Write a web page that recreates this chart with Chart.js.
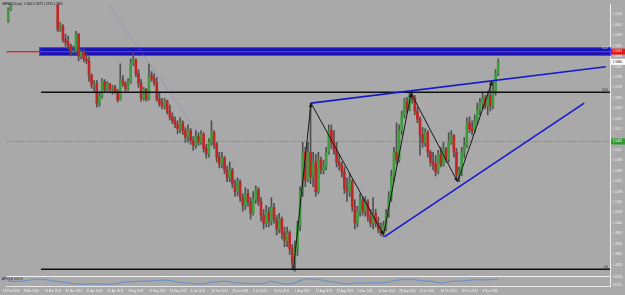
<!DOCTYPE html>
<html>
<head>
<meta charset="utf-8">
<script src="https://cdn.jsdelivr.net/npm/chart.js@4.4.0/dist/chart.umd.min.js"></script>
<style>
html, body { margin: 0; padding: 0; background: #a9a9a9; }
#wrap { width: 625px; height: 295px; }
</style>
</head>
<body>
<div id="wrap"><canvas id="c" width="625" height="295"></canvas></div>
<script>
// GBPAUD daily, bar 0 = 8 Mar 2011
var symbol = 'GBPAUD,Daily';
var firstBar = -6;
var firstOpen = 1.6065;

var closes = [
  1.6125, 1.6250, 1.6300, 1.6375, 1.6450, 1.6500,
  1.6550, 1.6525, 1.6575, 1.6590, 1.6550, 1.6500, 1.6450, 1.6400, 1.6360, 1.6325,
  1.6275, 1.6225, 1.6200, 1.6025, 1.6040, 1.5975, 1.5960, 1.5940, 1.5910, 1.5915,
  1.6000, 1.5890, 1.5910, 1.5875, 1.5865, 1.5790, 1.5740, 1.5750, 1.5650, 1.5685,
  1.5760, 1.5720, 1.5750, 1.5720, 1.5730, 1.5710, 1.5665, 1.5770, 1.5750, 1.5725,
  1.5760, 1.5850, 1.5870, 1.5800, 1.5750, 1.5675, 1.5720, 1.5670, 1.5790, 1.5775,
  1.5755, 1.5670, 1.5650, 1.5635, 1.5660, 1.5610, 1.5580, 1.5560, 1.5540, 1.5520,
  1.5550, 1.5510, 1.5475, 1.5510, 1.5460, 1.5435, 1.5480, 1.5450, 1.5490, 1.5420,
  1.5390, 1.5450, 1.5500, 1.5440, 1.5375, 1.5340, 1.5370, 1.5310, 1.5270, 1.5310,
  1.5240, 1.5200, 1.5250, 1.5170, 1.5130, 1.5190, 1.5150, 1.5090, 1.5160, 1.5210,
  1.5150, 1.5080, 1.5040, 1.5100, 1.5050, 1.5120, 1.5060, 1.5010, 1.5060, 1.4990,
  1.4950, 1.4990, 1.4910, 1.4840, 1.4910, 1.5025, 1.5200, 1.5400, 1.5260, 1.5400,
  1.5275, 1.5350, 1.5200, 1.5360, 1.5310, 1.5330, 1.5400, 1.5510, 1.5450, 1.5410,
  1.5350, 1.5335, 1.5300, 1.5215, 1.5200, 1.5250, 1.5125, 1.5040, 1.5100, 1.5160,
  1.5100, 1.5150, 1.5075, 1.5040, 1.5090, 1.5040, 1.5010, 1.4990, 1.5025, 1.5090,
  1.5170, 1.5275, 1.5400, 1.5360, 1.5510, 1.5590, 1.5660, 1.5620, 1.5690, 1.5675,
  1.5610, 1.5570, 1.5490, 1.5450, 1.5500, 1.5400, 1.5350, 1.5340, 1.5300, 1.5390,
  1.5340, 1.5415, 1.5365, 1.5450, 1.5485, 1.5400, 1.5285, 1.5300, 1.5400, 1.5435,
  1.5550, 1.5520, 1.5510, 1.5560, 1.5615, 1.5650, 1.5675, 1.5635, 1.5690, 1.5635,
  1.5710, 1.5800, 1.5860
];
var highs = [
  1.6135, 1.6260, 1.6325, 1.6390, 1.6470, 1.6525,
  1.6570, 1.6575, 1.6590, 1.6605, 1.6595, 1.6560, 1.6510, 1.6465, 1.6420, 1.6375,
  1.6340, 1.6285, 1.6240, 1.6210, 1.6060, 1.6050, 1.6000, 1.5990, 1.5950, 1.5940,
  1.6015, 1.6005, 1.5925, 1.5925, 1.5900, 1.5885, 1.5800, 1.5765, 1.5765, 1.5700,
  1.5775, 1.5770, 1.5760, 1.5750, 1.5740, 1.5740, 1.5720, 1.5850, 1.5790, 1.5760,
  1.5775, 1.5875, 1.5910, 1.5875, 1.5820, 1.5770, 1.5730, 1.5725, 1.5850, 1.5810,
  1.5800, 1.5780, 1.5700, 1.5675, 1.5675, 1.5665, 1.5640, 1.5600, 1.5580, 1.5560,
  1.5575, 1.5560, 1.5525, 1.5540, 1.5520, 1.5480, 1.5510, 1.5500, 1.5510, 1.5500,
  1.5440, 1.5470, 1.5560, 1.5510, 1.5450, 1.5400, 1.5400, 1.5380, 1.5330, 1.5350,
  1.5320, 1.5260, 1.5270, 1.5260, 1.5190, 1.5220, 1.5210, 1.5170, 1.5200, 1.5230,
  1.5220, 1.5170, 1.5110, 1.5130, 1.5120, 1.5170, 1.5140, 1.5080, 1.5090, 1.5070,
  1.5020, 1.5020, 1.5000, 1.4930, 1.4950, 1.5050, 1.5225, 1.5450, 1.5425, 1.5450,
  1.5650, 1.5400, 1.5390, 1.5400, 1.5375, 1.5360, 1.5425, 1.5540, 1.5540, 1.5510,
  1.5450, 1.5390, 1.5350, 1.5325, 1.5270, 1.5290, 1.5260, 1.5160, 1.5125, 1.5190,
  1.5170, 1.5175, 1.5160, 1.5110, 1.5170, 1.5110, 1.5070, 1.5040, 1.5050, 1.5110,
  1.5200, 1.5310, 1.5425, 1.5550, 1.5540, 1.5610, 1.5675, 1.5680, 1.5705, 1.5710,
  1.5690, 1.5630, 1.5580, 1.5525, 1.5520, 1.5510, 1.5410, 1.5400, 1.5385, 1.5410,
  1.5425, 1.5450, 1.5425, 1.5500, 1.5510, 1.5490, 1.5420, 1.5325, 1.5425, 1.5475,
  1.5575, 1.5580, 1.5560, 1.5590, 1.5650, 1.5675, 1.5700, 1.5690, 1.5710, 1.5760,
  1.5760, 1.5820, 1.5875
];
var lows = [
  1.6060, 1.6120, 1.6240, 1.6290, 1.6360, 1.6425,
  1.6480, 1.6500, 1.6510, 1.6550, 1.6530, 1.6480, 1.6425, 1.6380, 1.6340, 1.6300,
  1.6250, 1.6200, 1.6175, 1.6015, 1.6015, 1.5960, 1.5940, 1.5925, 1.5890, 1.5900,
  1.5900, 1.5865, 1.5875, 1.5860, 1.5850, 1.5760, 1.5725, 1.5710, 1.5630, 1.5635,
  1.5675, 1.5705, 1.5710, 1.5705, 1.5695, 1.5700, 1.5655, 1.5665, 1.5735, 1.5710,
  1.5715, 1.5750, 1.5840, 1.5785, 1.5730, 1.5660, 1.5665, 1.5660, 1.5665, 1.5760,
  1.5740, 1.5660, 1.5635, 1.5620, 1.5620, 1.5595, 1.5565, 1.5545, 1.5525, 1.5495,
  1.5500, 1.5490, 1.5450, 1.5450, 1.5440, 1.5410, 1.5420, 1.5435, 1.5440, 1.5400,
  1.5370, 1.5375, 1.5435, 1.5420, 1.5350, 1.5320, 1.5320, 1.5290, 1.5250, 1.5250,
  1.5220, 1.5175, 1.5180, 1.5150, 1.5100, 1.5110, 1.5125, 1.5060, 1.5080, 1.5140,
  1.5130, 1.5050, 1.5010, 1.5020, 1.5020, 1.5030, 1.5040, 1.4980, 1.4990, 1.4960,
  1.4920, 1.4920, 1.4880, 1.4810, 1.4795, 1.4875, 1.5000, 1.5175, 1.5225, 1.5250,
  1.5240, 1.5225, 1.5175, 1.5190, 1.5290, 1.5290, 1.5310, 1.5390, 1.5420, 1.5390,
  1.5325, 1.5310, 1.5275, 1.5190, 1.5150, 1.5175, 1.5100, 1.5010, 1.5020, 1.5075,
  1.5080, 1.5075, 1.5050, 1.5020, 1.5010, 1.5020, 1.4990, 1.4975, 1.4970, 1.5000,
  1.5070, 1.5150, 1.5250, 1.5340, 1.5350, 1.5490, 1.5575, 1.5600, 1.5610, 1.5650,
  1.5590, 1.5550, 1.5385, 1.5425, 1.5430, 1.5375, 1.5330, 1.5310, 1.5280, 1.5290,
  1.5325, 1.5330, 1.5350, 1.5350, 1.5440, 1.5375, 1.5265, 1.5250, 1.5280, 1.5370,
  1.5425, 1.5500, 1.5490, 1.5500, 1.5540, 1.5590, 1.5620, 1.5620, 1.5590, 1.5610,
  1.5620, 1.5690, 1.5790
];
// ATR(14) in pips
var atrPips = [
  156, 154, 152, 150, 152, 155, 158, 162,
  166, 170, 174, 177, 178, 176,
  172, 168, 163, 158, 154, 150, 146, 142, 138, 134, 130, 127, 124,
  122, 121, 120, 121, 123, 122, 125, 124, 122, 121, 120, 119, 121, 122, 124, 127,
  135, 140, 144, 146, 145, 147,
  150, 152, 155, 156, 154, 155, 157, 158,
  160, 163, 166, 167, 165, 162, 158,
  150, 144, 140, 136, 133, 132, 130,
  126, 123, 121, 122, 124,
  130, 136, 142, 145, 146, 148, 153,
  155, 152, 146, 140, 136, 133, 132,
  130, 128, 126, 125, 128, 126, 124, 126, 130, 134,
  145, 152,
  146, 138, 132, 127, 123, 121, 122, 126,
  134, 148, 160, 170, 177,
  178, 180, 178, 176, 174, 170,
  162, 155, 150, 146, 144,
  138, 132, 126, 122, 121,
  124, 128, 131, 133, 136, 134, 132, 130, 133, 135, 137, 134, 132, 135,
  140, 146, 152, 158, 164, 168, 172,
  176, 178, 177, 175, 172,
  166, 160, 157, 155, 154, 155, 150,
  142, 136, 132, 133,
  140, 146, 152, 155, 156, 154, 157, 160,
  163, 166, 168, 170, 171, 172, 170, 168, 170, 172, 174, 176, 175
];

var dateIdx = [-8, 0, 8, 16, 24, 32, 40, 48, 56, 64, 72, 80, 88, 96, 104, 112, 120, 128, 136, 144, 152, 160, 168, 176];
var dateLabels = ['24 Feb 2011', '8 Mar 2011', '18 Mar 2011', '30 Mar 2011', '11 Apr 2011', '21 Apr 2011',
  '3 May 2011', '13 May 2011', '25 May 2011', '6 Jun 2011', '16 Jun 2011', '28 Jun 2011', '8 Jul 2011',
  '20 Jul 2011', '1 Aug 2011', '11 Aug 2011', '23 Aug 2011', '2 Sep 2011', '14 Sep 2011', '26 Sep 2011',
  '6 Oct 2011', '18 Oct 2011', '28 Oct 2011', '9 Nov 2011'];
var priceTicks = [1.6100, 1.6047, 1.5994, 1.5941, 1.5888, 1.5835, 1.5782, 1.5729, 1.5676, 1.5623,
  1.5570, 1.5517, 1.5464, 1.5411, 1.5358, 1.5305, 1.5252, 1.5199, 1.5146, 1.5093,
  1.5040, 1.4987, 1.4934, 1.4881, 1.4828];

// drawn objects
var zigIdx = [103.4, 110.2, 138.0, 148.6, 166.4, 179.7];
var zigPrice = [1.4800, 1.5650, 1.4980, 1.5700, 1.5250, 1.5760];
var upperIdx = [110.2, 223.3], upperPrice = [1.5650, 1.5835];
var lowerIdx = [138.3, 215.0], lowerPrice = [1.4970, 1.5650];
var dotIdx = [32.45, 67.8], dotPrice = [1.6150, 1.5480];
var fibStart = 6.6;
var fibNames = ['0.0', '50.0', '61.8'];
var fibPrices = [1.4805, 1.5705, 1.5917];
var bandStart = 5.9, bandTop = 1.5935, bandBottom = 1.5890;
var redLine = 1.5912;
var greenLine = 1.5455;

var xMin = -6.64, xMax = 224.9;
var yMin = 1.4720, yMax = 1.6150;
var atrMin = 98.75, atrMax = 3316.25; // keeps ATR in the bottom strip

var bars = closes.map(function (c, k) { return firstBar + k; });
var opens = closes.map(function (c, k) { return k ? closes[k - 1] : firstOpen; });

function pts(xs, ys) {
  return xs.map(function (x, k) { return { x: x, y: ys[k] }; });
}
function lineSet(data, color, width, dash) {
  return {
    type: 'line', data: data, borderColor: color, borderWidth: width,
    borderDash: dash || [], pointRadius: 0, tension: 0, order: 0, yAxisID: 'y'
  };
}

var FONT = { size: 3, family: 'Liberation Sans' };

var datasets = [
  lineSet(pts(zigIdx, zigPrice), '#161616', 1),
  lineSet(pts(upperIdx, upperPrice), '#1818cc', 1.6),
  lineSet(pts(lowerIdx, lowerPrice), '#1818cc', 1.6),
  lineSet(pts(dotIdx, dotPrice), '#9068c0', 1, [1, 2]),
  lineSet(pts([fibStart, xMax + 2], [fibPrices[0], fibPrices[0]]), '#101010', 1.5),
  lineSet(pts([fibStart, xMax + 2], [fibPrices[1], fibPrices[1]]), '#101010', 1.5),
  lineSet(pts([xMin - 2, xMax + 2], [greenLine, greenLine]), '#2f8f2f', 1, [1, 2]),
  {
    type: 'line', yAxisID: 'y2', order: 0,
    data: pts(bars, atrPips), borderColor: '#5e8fd0', borderWidth: 1,
    pointRadius: 0, tension: 0
  },
  {
    type: 'bar', order: 2, grouped: false, barThickness: 2, minBarLength: 1,
    data: pts(bars, opens.map(function (o, k) { return [o, closes[k]]; })),
    backgroundColor: closes.map(function (c, k) { return c >= opens[k] ? '#3d9c3d' : '#c12525'; })
  },
  {
    type: 'bar', order: 3, grouped: false, barThickness: 1,
    data: pts(bars, lows.map(function (l, k) { return [l, highs[k]]; })),
    backgroundColor: '#505050'
  }
];

function arrowHead(ctx, xA, yA, xB, yB) {
  var a = Math.atan2(yB - yA, xB - xA), L = 4, W = 1.8;
  ctx.beginPath();
  ctx.moveTo(xB, yB);
  ctx.lineTo(xB - L * Math.cos(a) + W * Math.sin(a), yB - L * Math.sin(a) - W * Math.cos(a));
  ctx.lineTo(xB - L * Math.cos(a) - W * Math.sin(a), yB - L * Math.sin(a) + W * Math.cos(a));
  ctx.closePath();
  ctx.fill();
}

function axisBox(ctx, chart, y, fill, txtColor, text) {
  var ca = chart.chartArea;
  ctx.fillStyle = fill;
  ctx.fillRect(ca.right + 1, y - 3, 625 - ca.right - 1, 6);
  ctx.fillStyle = txtColor;
  ctx.font = '3px "Liberation Sans"';
  ctx.textAlign = 'left';
  ctx.textBaseline = 'middle';
  ctx.fillText(text, ca.right + 3, y);
}

var backPlugin = {
  id: 'back',
  beforeDatasetsDraw: function (chart) {
    var ctx = chart.ctx, xs = chart.scales.x, ys = chart.scales.y, ca = chart.chartArea;
    var x0 = xs.getPixelForValue(bandStart);
    var yT = ys.getPixelForValue(bandTop), yB = ys.getPixelForValue(bandBottom);
    var yR = ys.getPixelForValue(redLine);
    ctx.save();
    ctx.fillStyle = '#1414b8';
    ctx.fillRect(x0, yT, ca.right - x0, yB - yT);
    ctx.strokeStyle = '#4646ff';
    ctx.lineWidth = 1;
    ctx.strokeRect(x0 + 0.5, yT + 0.5, ca.right - x0, yB - yT - 1);
    ctx.fillStyle = '#e01818';
    ctx.fillRect(ca.left, yR - 0.5, x0 - ca.left, 1.2);
    ctx.fillStyle = '#9a2ab0';
    ctx.fillRect(x0, yR - 0.5, ca.right - x0, 1.2);
    ctx.restore();
  }
};

var frontPlugin = {
  id: 'front',
  afterDatasetsDraw: function (chart) {
    var ctx = chart.ctx, xs = chart.scales.x, ys = chart.scales.y, ys2 = chart.scales.y2, ca = chart.chartArea;
    ctx.save();
    // zigzag arrow heads
    ctx.fillStyle = '#161616';
    for (var k = 0; k + 1 < zigIdx.length; k++) {
      arrowHead(ctx, xs.getPixelForValue(zigIdx[k]), ys.getPixelForValue(zigPrice[k]),
        xs.getPixelForValue(zigIdx[k + 1]), ys.getPixelForValue(zigPrice[k + 1]));
    }
    // fibo level names
    ctx.font = '3px "Liberation Sans"';
    ctx.textAlign = 'right';
    ctx.textBaseline = 'bottom';
    fibNames.forEach(function (n, k) {
      ctx.fillStyle = k === 2 ? '#d8d8d8' : '#202020';
      ctx.fillText(n, ca.right - 2, ys.getPixelForValue(fibPrices[k]) - 1);
    });
    // indicator window separator
    var ySep = ys2.getPixelForValue(216);
    ctx.fillStyle = '#f2f2f2';
    ctx.fillRect(ca.left, Math.round(ySep), ca.right - ca.left, 1);
    ctx.fillStyle = '#a9a9a9';
    ctx.fillRect(ca.left, Math.round(ySep) + 1, ca.right - ca.left, 1);
    // header texts
    var n = closes.length - 1;
    ctx.fillStyle = '#1a1a1a';
    ctx.textAlign = 'left';
    ctx.textBaseline = 'top';
    ctx.fillText(symbol + '  ' + [opens[n], highs[n], lows[n], closes[n]].map(function (v) { return v.toFixed(4); }).join(' '), 2, 3);
    ctx.fillText('ATR(14) ' + (atrPips[n] / 10000).toFixed(4), 2, Math.round(ySep) + 2);
    // indicator scale labels
    ctx.fillStyle = '#f0f0f0';
    ctx.textBaseline = 'middle';
    [200, 110].forEach(function (v) {
      ctx.fillText((v / 10000).toFixed(4), ca.right + 3, ys2.getPixelForValue(v));
    });
    // price boxes on the axis
    axisBox(ctx, chart, ys.getPixelForValue(redLine), '#e01818', '#ffffff', redLine.toFixed(4));
    axisBox(ctx, chart, ys.getPixelForValue(closes[n]), '#ffffff', '#000000', closes[n].toFixed(4));
    axisBox(ctx, chart, ys.getPixelForValue(greenLine), '#2f9a2f', '#ffffff', greenLine.toFixed(4));
    ctx.restore();
  }
};

var chart = new Chart(document.getElementById('c'), {
  type: 'bar',
  data: { datasets: datasets },
  plugins: [backPlugin, frontPlugin],
  options: {
    responsive: false,
    animation: false,
    events: [],
    layout: { padding: 0 },
    plugins: { legend: { display: false }, tooltip: { enabled: false } },
    scales: {
      x: {
        type: 'linear', min: xMin, max: xMax, offset: false,
        grid: { display: false, drawTicks: false },
        border: { display: true, color: '#e8e8e8' },
        afterFit: function (s) { s.height = 9; },
        afterBuildTicks: function (s) { s.ticks = dateIdx.map(function (v) { return { value: v }; }); },
        ticks: {
          autoSkip: false, maxRotation: 0, align: 'start', padding: 3,
          color: '#f2f2f2', font: FONT,
          callback: function (v) { return dateLabels[dateIdx.indexOf(v)]; }
        }
      },
      y: {
        position: 'right', min: yMin, max: yMax,
        grid: { display: false, drawTicks: false },
        border: { display: true, color: '#f0f0f0' },
        afterFit: function (s) { s.width = 15; },
        afterBuildTicks: function (s) { s.ticks = priceTicks.map(function (v) { return { value: v }; }); },
        ticks: {
          padding: 3, color: '#f0f0f0', font: FONT,
          callback: function (v) { return v.toFixed(4); }
        }
      },
      y2: { display: false, position: 'right', min: atrMin, max: atrMax }
    }
  }
});
</script>
</body>
</html>
